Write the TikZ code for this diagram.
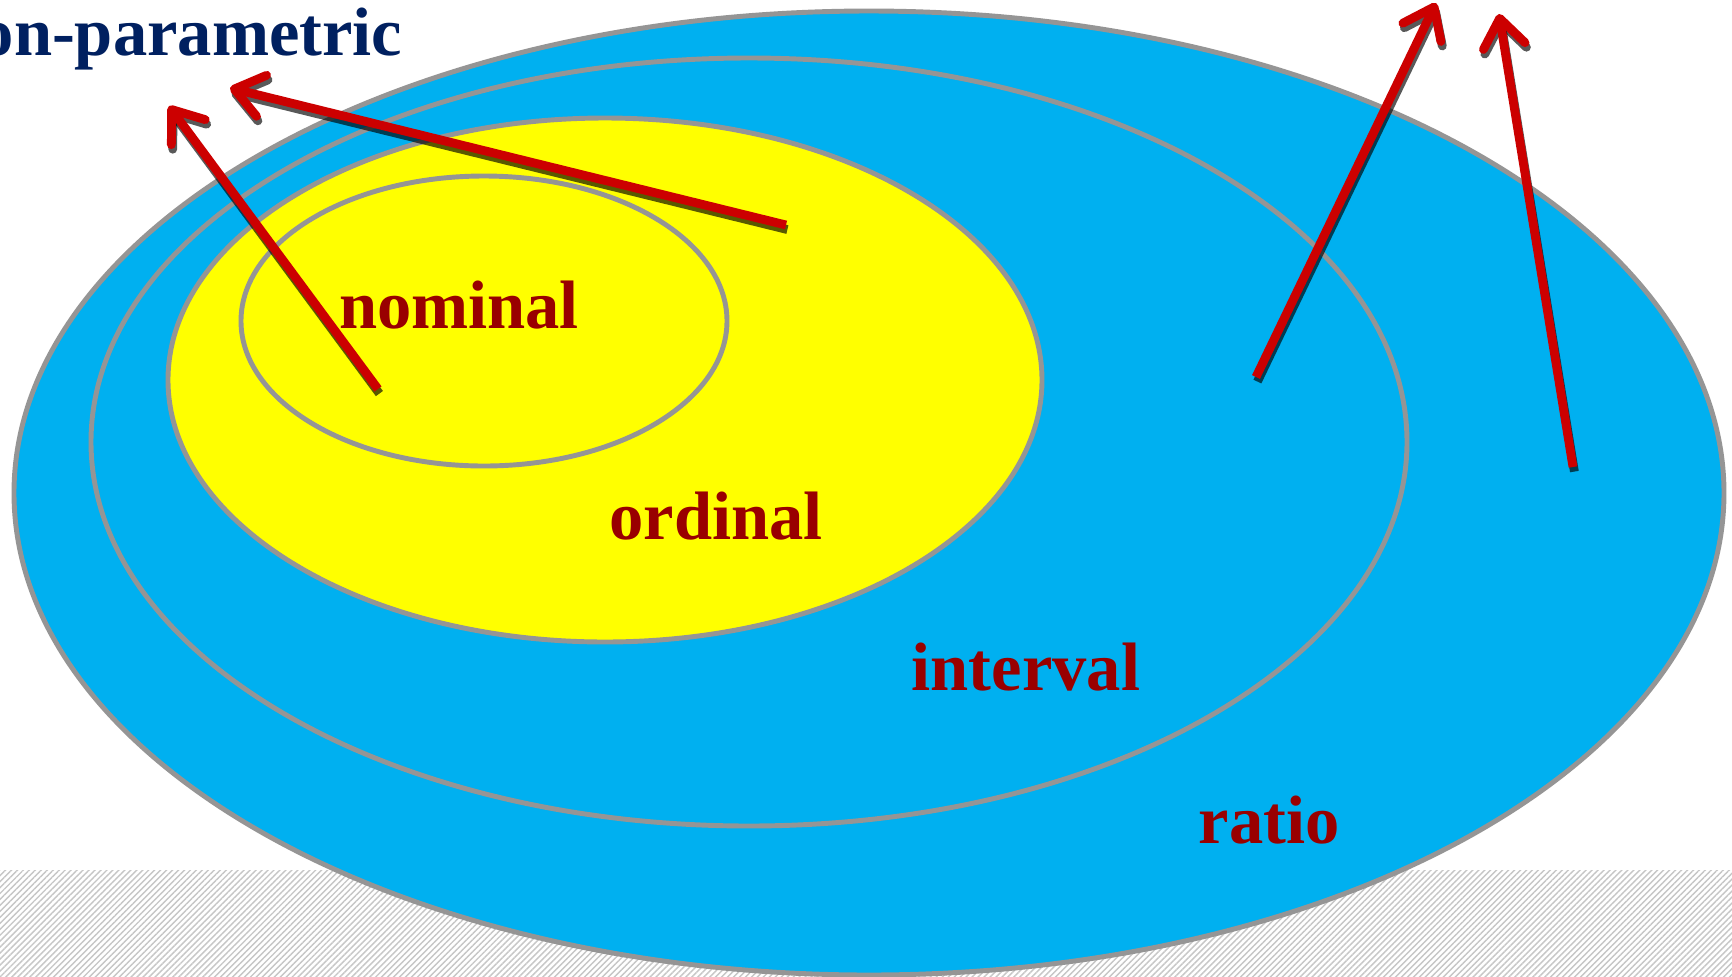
\documentclass[tikz,border=0pt]{standalone}
\usepackage{fontspec}
\setmainfont{Liberation Serif}
\usetikzlibrary{arrows.meta,patterns.meta}
\definecolor{skyblue}{HTML}{00B0F0}
\definecolor{ordyellow}{HTML}{FFFF00}
\definecolor{ringgray}{HTML}{959595}
\definecolor{labelred}{HTML}{990000}
\definecolor{arrowred}{HTML}{CC0000}
\definecolor{navy}{HTML}{002060}

\begin{document}
\begin{tikzpicture}[x=0.1mm, y=-0.1mm,
	ring/.style={draw=ringgray, line width=1.4pt},
	lvl/.style={font=\bfseries\fontsize{19.5}{23}\selectfont, text=labelred, anchor=base, inner sep=0pt},
	pointer/.style={draw=arrowred, line width=2.5pt, -{Straight Barb[length=8pt, width=12pt, round]}},
	pointershade/.style={draw=black, opacity=0.65, line width=2.5pt, -{Straight Barb[length=8pt, width=12pt, round]}, transform canvas={xshift=0.4pt, yshift=-1.3pt}}]
	\useasboundingbox (0,0) rectangle (1732,977);
	\fill[white] (0,0) rectangle (1732,977);
	\fill[pattern={Lines[angle=45, distance=1.2pt, line width=0.4pt]}, pattern color=gray!45] (0,870) rectangle (1732,977);
	% nested scales
	\draw[ring, fill=skyblue] (869,493) ellipse [x radius=855, y radius=482];
	\draw[ring] (749,442) ellipse [x radius=658, y radius=384];
	\draw[ring, fill=ordyellow] (605,380) ellipse [x radius=437, y radius=262];
	\draw[ring] (484,321) ellipse [x radius=243, y radius=145];
	\node[lvl] (nominal) at (459,328) {nominal};
	\node[lvl] (ordinal) at (716,539) {ordinal};
	\node[lvl] (interval) at (1026,690) {interval};
	\node[lvl] (ratio) at (1269,843) {ratio};
	\node[font=\bfseries\fontsize{19.5}{23}\selectfont, text=navy, anchor=base east, inner sep=0pt] (nonpar) at (403,55) {non-parametric};
	% pointer ends
	\coordinate (nomtail) at (378,389);
	\coordinate (nomtip) at (169,106);
	\coordinate (ordtail) at (786,225);
	\coordinate (ordtip) at (230,88);
	\coordinate (inttail) at (1256,377);
	\coordinate (inttip) at (1436,3);
	\coordinate (ratail) at (1573,467);
	\coordinate (ratip) at (1499,14);
	\foreach \t/\h in {nomtail/nomtip, ordtail/ordtip, inttail/inttip, ratail/ratip} {
		\draw[pointershade] (\t) -- (\h);
		\draw[pointer] (\t) -- (\h);
	}
\end{tikzpicture}
\end{document}
